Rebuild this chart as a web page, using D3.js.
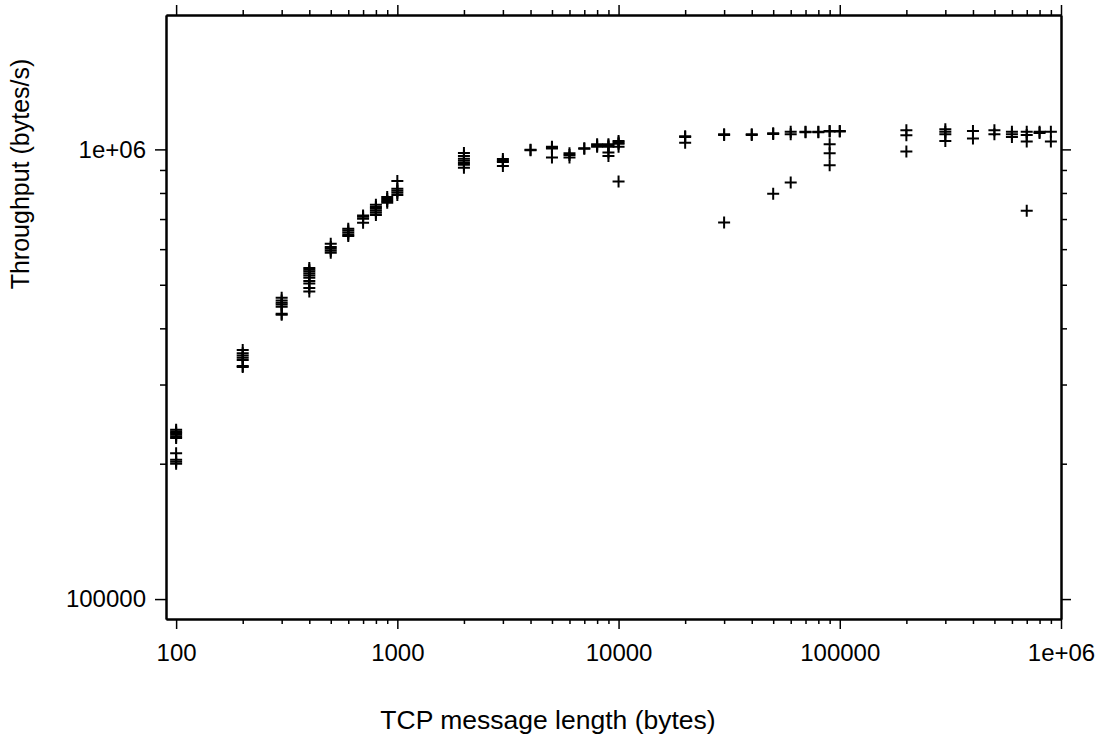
<!DOCTYPE html>
<html><head><meta charset="utf-8">
<script src="https://cdn.jsdelivr.net/npm/d3@7"></script>
<style>body{margin:0;background:#fff}</style>
</head><body>
<svg id="chart" width="1111" height="751"></svg>
<script>
// ---- data ----
const messageSizes = [100,200,300,400,500,600,700,800,900,1000,
  2000,3000,4000,5000,6000,7000,8000,9000,10000,
  20000,30000,40000,50000,60000,70000,80000,90000,100000,
  200000,300000,400000,500000,600000,700000,800000,900000];
const throughputRuns = [
  [2.38e5,2.36e5,2.34e5,2.32e5,2.30e5,2.28e5,2.11e5,2.04e5,2.02e5,2.00e5],
  [3.58e5,3.52e5,3.48e5,3.44e5,3.40e5,3.30e5,3.28e5],
  [4.68e5,4.61e5,4.56e5,4.52e5,4.47e5,4.31e5,4.29e5],
  [5.45e5,5.40e5,5.35e5,5.30e5,5.24e5,5.18e5,5.10e5,5.03e5,4.92e5,4.83e5],
  [6.17e5,6.07e5,6.01e5,5.95e5,5.89e5],
  [6.66e5,6.60e5,6.53e5,6.47e5,6.42e5],
  [7.13e5,7.08e5,7.01e5,6.87e5],
  [7.53e5,7.45e5,7.38e5,7.30e5,7.23e5,7.15e5],
  [7.84e5,7.76e5,7.68e5,7.61e5],
  [8.51e5,8.17e5,8.09e5,8.01e5,7.92e5],
  [9.82e5,9.67e5,9.53e5,9.43e5,9.33e5,9.24e5,9.10e5],
  [9.52e5,9.43e5,9.38e5,9.19e5],
  [9.98e5,9.95e5],
  [1.013e6,1.008e6,1.004e6,9.59e5],
  [9.80e5,9.72e5,9.59e5],
  [1.006e6,1.003e6],
  [1.027e6,1.020e6,1.013e6],
  [1.027e6,1.020e6,1.013e6,9.84e5,9.67e5],
  [1.044e6,1.036e6,1.029e6,1.013e6,8.48e5],
  [1.070e6,1.066e6,1.035e6],
  [1.080e6,1.077e6,6.88e5],
  [1.080e6,1.077e6],
  [1.086e6,1.082e6,7.97e5],
  [1.094e6,1.081e6,8.44e5],
  [1.095e6,1.092e6],
  [1.095e6,1.092e6],
  [1.099e6,1.096e6,1.027e6,9.81e5,9.22e5],
  [1.099e6,1.096e6],
  [1.103e6,1.075e6,9.89e5],
  [1.109e6,1.094e6,1.081e6,1.044e6],
  [1.099e6,1.057e6],
  [1.103e6,1.081e6],
  [1.095e6,1.081e6,1.066e6],
  [1.095e6,1.077e6,1.041e6,7.30e5],
  [1.095e6,1.088e6],
  [1.094e6,1.041e6]
];
const xTickValues = [100,1000,10000,100000,1000000];
const xTickLabels = ["100","1000","10000","100000","1e+06"];
const yTickValues = [100000,1000000];
const yTickLabels = ["100000","1e+06"];
const xMinorTicks = [200,300,400,500,600,700,800,900,2000,3000,4000,5000,6000,7000,8000,9000,
  20000,30000,40000,50000,60000,70000,80000,90000,200000,300000,400000,500000,600000,700000,800000,900000];
const yMinorTicks = [200000,300000,400000,500000,600000,700000,800000,900000];
const xTitle = "TCP message length (bytes)";
const yTitle = "Throughput (bytes/s)";

// ---- drawing ----
const FONT = "'Liberation Sans', Arial, Helvetica, sans-serif";
const L = 166, R = 1061, T = 15, B = 619;
const svg = d3.select("#chart");
const x = d3.scaleLog().domain([90, 1e6]).range([L, R]);
const y = d3.scaleLog().domain([90300, 1.99e6]).range([B, T]);

function styleAxis(g) {
  g.attr("font-family", FONT).attr("font-size", 24);
  g.selectAll(".domain").attr("stroke", "#000").attr("stroke-width", 2);
  g.selectAll(".tick line").attr("stroke", "#000").attr("stroke-width", 1.5);
  g.selectAll(".tick text").attr("fill", "#000");
}
const noLabel = () => "";

// bottom
svg.append("g").attr("transform", `translate(0,${B})`)
  .call(d3.axisBottom(x).tickValues(xMinorTicks).tickFormat(noLabel).tickSize(5).tickSizeOuter(0)).call(styleAxis);
svg.append("g").attr("transform", `translate(0,${B})`)
  .call(d3.axisBottom(x).tickValues(xTickValues).tickFormat((d,i)=>xTickLabels[i]).tickSize(10).tickPadding(15).tickSizeOuter(0)).call(styleAxis);
// top
svg.append("g").attr("transform", `translate(0,${T})`)
  .call(d3.axisTop(x).tickValues(xMinorTicks).tickFormat(noLabel).tickSize(5).tickSizeOuter(0)).call(styleAxis);
svg.append("g").attr("transform", `translate(0,${T})`)
  .call(d3.axisTop(x).tickValues(xTickValues).tickFormat(noLabel).tickSize(10).tickSizeOuter(0)).call(styleAxis);
// left
svg.append("g").attr("transform", `translate(${L},0)`)
  .call(d3.axisLeft(y).tickValues(yMinorTicks).tickFormat(noLabel).tickSize(6).tickSizeOuter(0)).call(styleAxis);
svg.append("g").attr("transform", `translate(${L},0)`)
  .call(d3.axisLeft(y).tickValues(yTickValues).tickFormat((d,i)=>yTickLabels[i]).tickSize(11).tickPadding(9).tickSizeOuter(0)).call(styleAxis);
// right
svg.append("g").attr("transform", `translate(${R},0)`)
  .call(d3.axisRight(y).tickValues(yMinorTicks).tickFormat(noLabel).tickSize(6).tickSizeOuter(0)).call(styleAxis);
svg.append("g").attr("transform", `translate(${R},0)`)
  .call(d3.axisRight(y).tickValues(yTickValues).tickFormat(noLabel).tickSize(10).tickSizeOuter(0)).call(styleAxis);

// points
const points = messageSizes.flatMap((s, i) => throughputRuns[i].map(v => ({size: s, value: v})));
svg.append("g").selectAll("path").data(points).join("path")
  .attr("transform", d => `translate(${x(d.size)},${y(d.value)})`)
  .attr("d", "M-6,0H6M0,-6V6")
  .attr("stroke", "#000").attr("stroke-width", 2).attr("fill", "none");

// titles
svg.append("text").attr("x", 548).attr("y", 729).attr("text-anchor", "middle")
  .attr("font-family", FONT).attr("font-size", 26.5).attr("fill", "#000").text(xTitle);
svg.append("text").attr("transform", "translate(29,174) rotate(-90)").attr("text-anchor", "middle")
  .attr("font-family", FONT).attr("font-size", 25).attr("fill", "#000").text(yTitle);
</script>
</body></html>
